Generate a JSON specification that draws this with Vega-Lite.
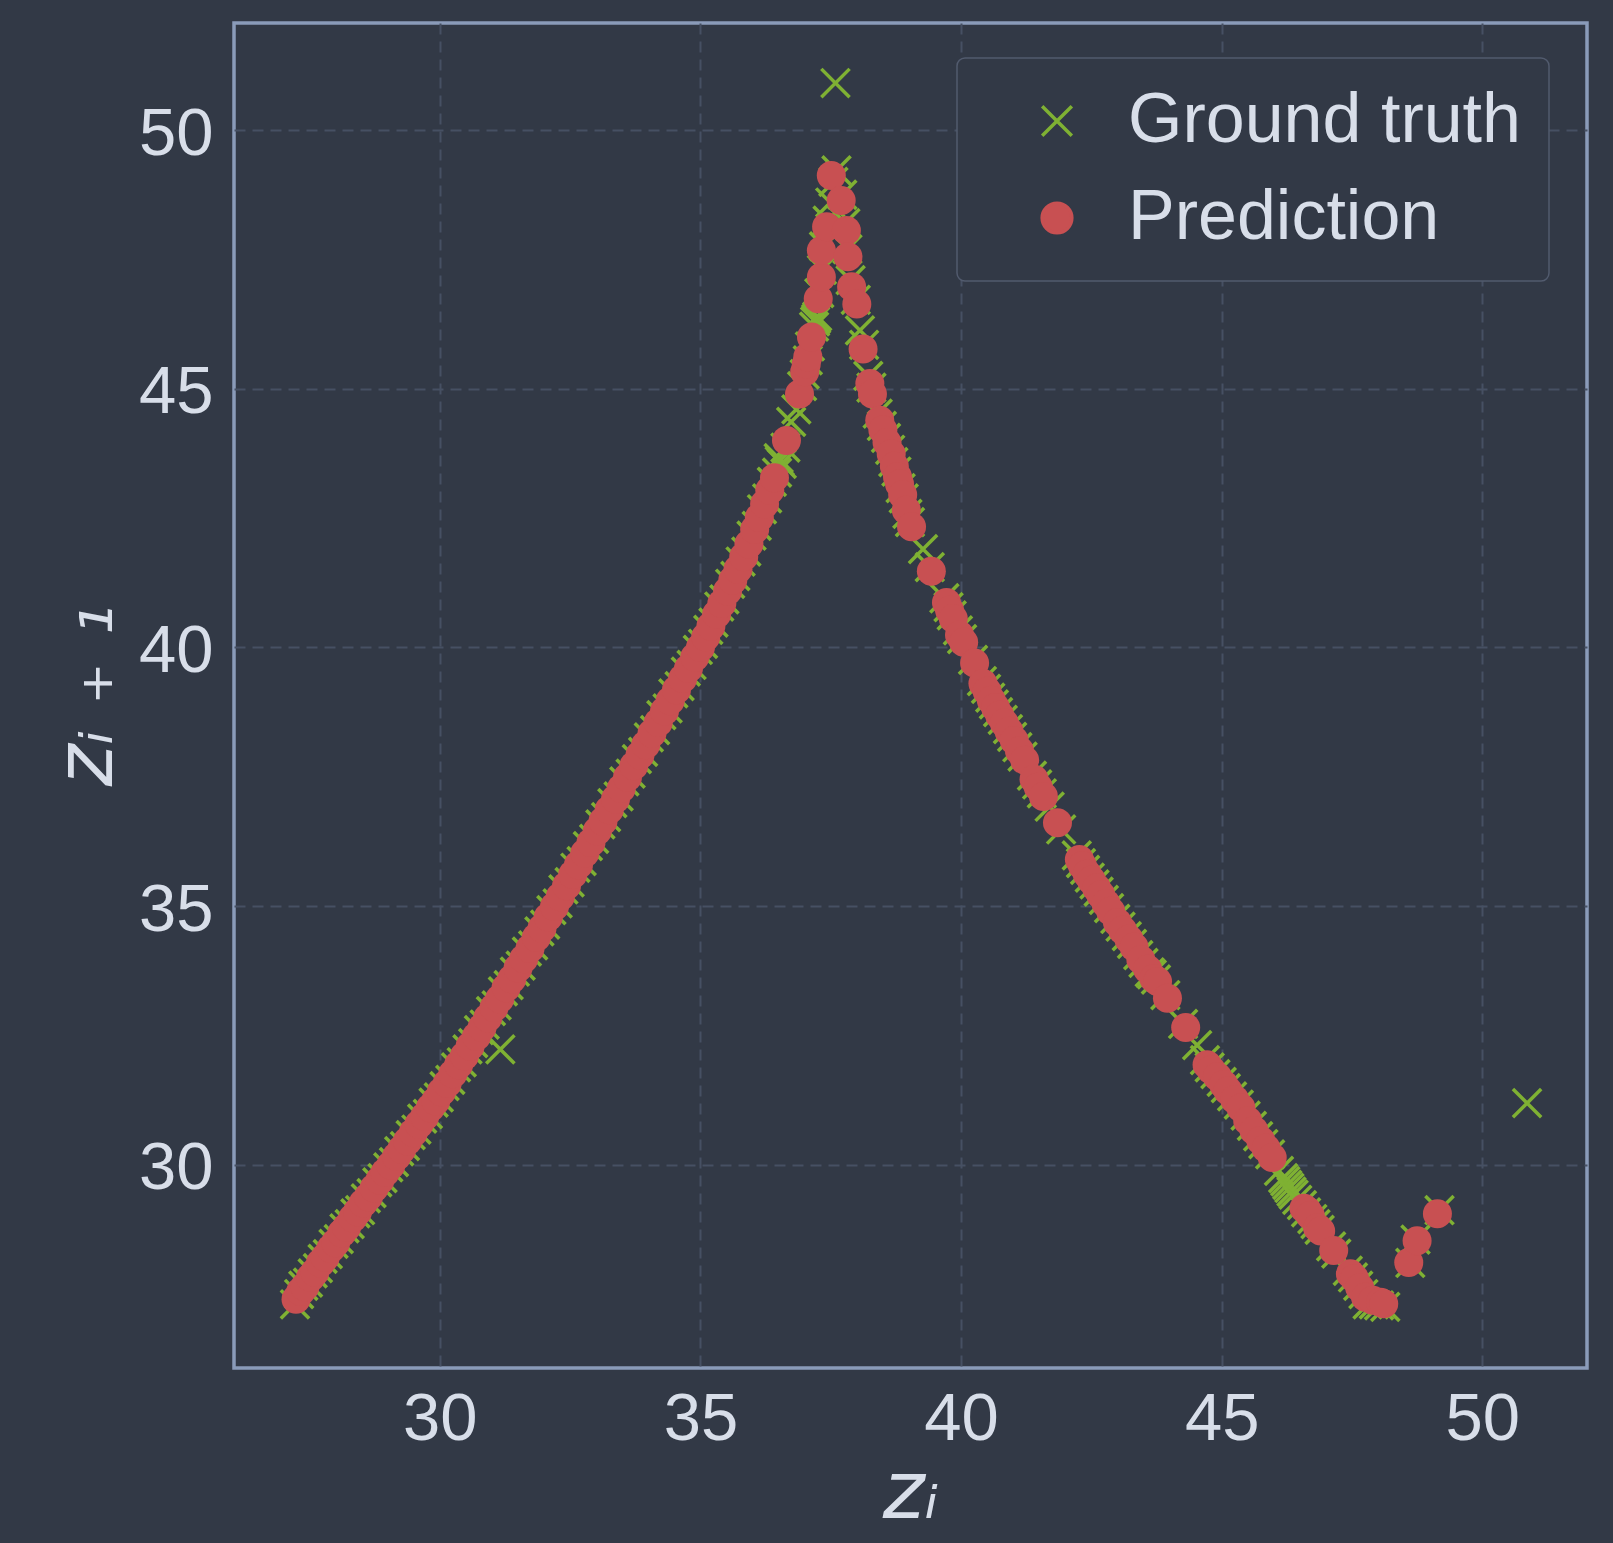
{
  "$schema": "https://vega.github.io/schema/vega-lite/v6.json",
  "autosize": {"type": "none"},
  "width": 1353,
  "height": 1345,
  "padding": {"left": 234, "top": 23, "right": 26, "bottom": 175},
  "background": "#323946",
  "config": {
    "view": {"stroke": "#8a9bb9", "strokeWidth": 3.5, "fill": "#323946"},
    "axis": {
      "domain": false,
      "ticks": false,
      "tickSize": 0,
      "grid": true,
      "gridColor": "#465063",
      "gridDash": [11, 7],
      "gridWidth": 2,
      "zindex": 1,
      "labelFont": "Liberation Sans",
      "labelFontSize": 67,
      "labelColor": "#d8dee9",
      "titleFont": "DejaVu Sans",
      "titleFontSize": 80,
      "titleFontStyle": "italic",
      "titleFontWeight": "normal",
      "titleColor": "#d8dee9"
    }
  },
  "data": {
    "values": [
      {"series": "Ground truth", "zi": 27.22, "zi1": 27.30},
      {"series": "Ground truth", "zi": 27.30, "zi1": 27.50},
      {"series": "Ground truth", "zi": 27.38, "zi1": 27.66},
      {"series": "Ground truth", "zi": 27.47, "zi1": 27.72},
      {"series": "Ground truth", "zi": 27.56, "zi1": 27.90},
      {"series": "Ground truth", "zi": 27.66, "zi1": 28.00},
      {"series": "Ground truth", "zi": 27.75, "zi1": 28.18},
      {"series": "Ground truth", "zi": 27.85, "zi1": 28.27},
      {"series": "Ground truth", "zi": 27.96, "zi1": 28.47},
      {"series": "Ground truth", "zi": 28.06, "zi1": 28.56},
      {"series": "Ground truth", "zi": 28.17, "zi1": 28.77},
      {"series": "Ground truth", "zi": 28.27, "zi1": 28.85},
      {"series": "Ground truth", "zi": 28.38, "zi1": 29.06},
      {"series": "Ground truth", "zi": 28.47, "zi1": 29.12},
      {"series": "Ground truth", "zi": 28.58, "zi1": 29.35},
      {"series": "Ground truth", "zi": 28.69, "zi1": 29.45},
      {"series": "Ground truth", "zi": 28.80, "zi1": 29.66},
      {"series": "Ground truth", "zi": 28.90, "zi1": 29.74},
      {"series": "Ground truth", "zi": 29.01, "zi1": 29.95},
      {"series": "Ground truth", "zi": 29.12, "zi1": 30.05},
      {"series": "Ground truth", "zi": 29.22, "zi1": 30.26},
      {"series": "Ground truth", "zi": 29.33, "zi1": 30.36},
      {"series": "Ground truth", "zi": 29.44, "zi1": 30.57},
      {"series": "Ground truth", "zi": 29.55, "zi1": 30.68},
      {"series": "Ground truth", "zi": 29.66, "zi1": 30.89},
      {"series": "Ground truth", "zi": 29.77, "zi1": 30.98},
      {"series": "Ground truth", "zi": 29.88, "zi1": 31.20},
      {"series": "Ground truth", "zi": 29.98, "zi1": 31.30},
      {"series": "Ground truth", "zi": 30.09, "zi1": 31.52},
      {"series": "Ground truth", "zi": 30.20, "zi1": 31.64},
      {"series": "Ground truth", "zi": 30.31, "zi1": 31.88},
      {"series": "Ground truth", "zi": 30.42, "zi1": 31.98},
      {"series": "Ground truth", "zi": 30.53, "zi1": 32.23},
      {"series": "Ground truth", "zi": 30.64, "zi1": 32.35},
      {"series": "Ground truth", "zi": 30.75, "zi1": 32.60},
      {"series": "Ground truth", "zi": 30.86, "zi1": 32.71},
      {"series": "Ground truth", "zi": 30.98, "zi1": 32.97},
      {"series": "Ground truth", "zi": 31.09, "zi1": 33.08},
      {"series": "Ground truth", "zi": 31.16, "zi1": 32.23},
      {"series": "Ground truth", "zi": 31.21, "zi1": 33.35},
      {"series": "Ground truth", "zi": 31.32, "zi1": 33.47},
      {"series": "Ground truth", "zi": 31.44, "zi1": 33.73},
      {"series": "Ground truth", "zi": 31.55, "zi1": 33.85},
      {"series": "Ground truth", "zi": 31.67, "zi1": 34.12},
      {"series": "Ground truth", "zi": 31.79, "zi1": 34.24},
      {"series": "Ground truth", "zi": 31.91, "zi1": 34.51},
      {"series": "Ground truth", "zi": 32.02, "zi1": 34.64},
      {"series": "Ground truth", "zi": 32.14, "zi1": 34.92},
      {"series": "Ground truth", "zi": 32.26, "zi1": 35.05},
      {"series": "Ground truth", "zi": 32.37, "zi1": 35.32},
      {"series": "Ground truth", "zi": 32.49, "zi1": 35.46},
      {"series": "Ground truth", "zi": 32.60, "zi1": 35.74},
      {"series": "Ground truth", "zi": 32.72, "zi1": 35.87},
      {"series": "Ground truth", "zi": 32.84, "zi1": 36.16},
      {"series": "Ground truth", "zi": 32.96, "zi1": 36.30},
      {"series": "Ground truth", "zi": 33.08, "zi1": 36.58},
      {"series": "Ground truth", "zi": 33.19, "zi1": 36.72},
      {"series": "Ground truth", "zi": 33.31, "zi1": 36.99},
      {"series": "Ground truth", "zi": 33.43, "zi1": 37.12},
      {"series": "Ground truth", "zi": 33.54, "zi1": 37.41},
      {"series": "Ground truth", "zi": 33.66, "zi1": 37.56},
      {"series": "Ground truth", "zi": 33.78, "zi1": 37.84},
      {"series": "Ground truth", "zi": 33.90, "zi1": 37.98},
      {"series": "Ground truth", "zi": 34.01, "zi1": 38.26},
      {"series": "Ground truth", "zi": 34.13, "zi1": 38.40},
      {"series": "Ground truth", "zi": 34.25, "zi1": 38.69},
      {"series": "Ground truth", "zi": 34.37, "zi1": 38.82},
      {"series": "Ground truth", "zi": 34.48, "zi1": 39.11},
      {"series": "Ground truth", "zi": 34.60, "zi1": 39.25},
      {"series": "Ground truth", "zi": 34.72, "zi1": 39.53},
      {"series": "Ground truth", "zi": 34.83, "zi1": 39.66},
      {"series": "Ground truth", "zi": 34.95, "zi1": 39.95},
      {"series": "Ground truth", "zi": 35.05, "zi1": 40.07},
      {"series": "Ground truth", "zi": 35.15, "zi1": 40.34},
      {"series": "Ground truth", "zi": 35.25, "zi1": 40.48},
      {"series": "Ground truth", "zi": 35.36, "zi1": 40.79},
      {"series": "Ground truth", "zi": 35.46, "zi1": 40.93},
      {"series": "Ground truth", "zi": 35.57, "zi1": 41.23},
      {"series": "Ground truth", "zi": 35.67, "zi1": 41.38},
      {"series": "Ground truth", "zi": 35.77, "zi1": 41.66},
      {"series": "Ground truth", "zi": 35.88, "zi1": 41.85},
      {"series": "Ground truth", "zi": 35.98, "zi1": 42.16},
      {"series": "Ground truth", "zi": 36.08, "zi1": 42.35},
      {"series": "Ground truth", "zi": 36.18, "zi1": 42.67},
      {"series": "Ground truth", "zi": 36.28, "zi1": 42.88},
      {"series": "Ground truth", "zi": 36.37, "zi1": 43.20},
      {"series": "Ground truth", "zi": 36.47, "zi1": 43.38},
      {"series": "Ground truth", "zi": 36.52, "zi1": 43.60},
      {"series": "Ground truth", "zi": 36.56, "zi1": 43.55},
      {"series": "Ground truth", "zi": 36.50, "zi1": 43.66},
      {"series": "Ground truth", "zi": 36.63, "zi1": 43.86},
      {"series": "Ground truth", "zi": 36.74, "zi1": 44.36},
      {"series": "Ground truth", "zi": 36.84, "zi1": 44.60},
      {"series": "Ground truth", "zi": 36.95, "zi1": 45.05},
      {"series": "Ground truth", "zi": 37.00, "zi1": 45.28},
      {"series": "Ground truth", "zi": 37.06, "zi1": 45.55},
      {"series": "Ground truth", "zi": 37.10, "zi1": 45.82},
      {"series": "Ground truth", "zi": 37.18, "zi1": 46.20},
      {"series": "Ground truth", "zi": 37.22, "zi1": 46.35},
      {"series": "Ground truth", "zi": 37.24, "zi1": 46.40},
      {"series": "Ground truth", "zi": 37.20, "zi1": 46.30},
      {"series": "Ground truth", "zi": 37.28, "zi1": 46.85},
      {"series": "Ground truth", "zi": 37.33, "zi1": 47.30},
      {"series": "Ground truth", "zi": 37.37, "zi1": 47.75},
      {"series": "Ground truth", "zi": 37.44, "zi1": 48.25},
      {"series": "Ground truth", "zi": 37.49, "zi1": 48.60},
      {"series": "Ground truth", "zi": 37.55, "zi1": 49.00},
      {"series": "Ground truth", "zi": 37.61, "zi1": 49.22},
      {"series": "Ground truth", "zi": 37.59, "zi1": 50.91},
      {"series": "Ground truth", "zi": 37.72, "zi1": 48.75},
      {"series": "Ground truth", "zi": 37.78, "zi1": 48.20},
      {"series": "Ground truth", "zi": 37.82, "zi1": 47.70},
      {"series": "Ground truth", "zi": 37.88, "zi1": 47.10},
      {"series": "Ground truth", "zi": 37.98, "zi1": 46.72},
      {"series": "Ground truth", "zi": 38.06, "zi1": 46.13},
      {"series": "Ground truth", "zi": 38.14, "zi1": 45.85},
      {"series": "Ground truth", "zi": 38.22, "zi1": 45.25},
      {"series": "Ground truth", "zi": 38.28, "zi1": 45.02},
      {"series": "Ground truth", "zi": 38.40, "zi1": 44.52},
      {"series": "Ground truth", "zi": 38.48, "zi1": 44.28},
      {"series": "Ground truth", "zi": 38.56, "zi1": 44.05},
      {"series": "Ground truth", "zi": 38.64, "zi1": 43.82},
      {"series": "Ground truth", "zi": 38.70, "zi1": 43.58},
      {"series": "Ground truth", "zi": 38.76, "zi1": 43.40},
      {"series": "Ground truth", "zi": 38.84, "zi1": 43.08},
      {"series": "Ground truth", "zi": 38.90, "zi1": 42.88},
      {"series": "Ground truth", "zi": 38.97, "zi1": 42.58},
      {"series": "Ground truth", "zi": 39.02, "zi1": 42.42},
      {"series": "Ground truth", "zi": 39.27, "zi1": 41.90},
      {"series": "Ground truth", "zi": 39.40, "zi1": 41.55},
      {"series": "Ground truth", "zi": 39.68, "zi1": 40.95},
      {"series": "Ground truth", "zi": 39.76, "zi1": 40.78},
      {"series": "Ground truth", "zi": 39.82, "zi1": 40.62},
      {"series": "Ground truth", "zi": 39.94, "zi1": 40.33},
      {"series": "Ground truth", "zi": 40.02, "zi1": 40.16},
      {"series": "Ground truth", "zi": 40.23, "zi1": 39.76},
      {"series": "Ground truth", "zi": 40.40, "zi1": 39.35},
      {"series": "Ground truth", "zi": 40.48, "zi1": 39.20},
      {"series": "Ground truth", "zi": 40.56, "zi1": 39.03},
      {"series": "Ground truth", "zi": 40.63, "zi1": 38.90},
      {"series": "Ground truth", "zi": 40.71, "zi1": 38.75},
      {"series": "Ground truth", "zi": 40.80, "zi1": 38.60},
      {"series": "Ground truth", "zi": 40.90, "zi1": 38.42},
      {"series": "Ground truth", "zi": 40.98, "zi1": 38.27},
      {"series": "Ground truth", "zi": 41.08, "zi1": 38.07},
      {"series": "Ground truth", "zi": 41.18, "zi1": 37.89},
      {"series": "Ground truth", "zi": 41.36, "zi1": 37.52},
      {"series": "Ground truth", "zi": 41.46, "zi1": 37.35},
      {"series": "Ground truth", "zi": 41.55, "zi1": 37.18},
      {"series": "Ground truth", "zi": 41.70, "zi1": 36.92},
      {"series": "Ground truth", "zi": 41.92, "zi1": 36.48},
      {"series": "Ground truth", "zi": 42.22, "zi1": 35.98},
      {"series": "Ground truth", "zi": 42.30, "zi1": 35.83},
      {"series": "Ground truth", "zi": 42.38, "zi1": 35.70},
      {"series": "Ground truth", "zi": 42.47, "zi1": 35.55},
      {"series": "Ground truth", "zi": 42.56, "zi1": 35.42},
      {"series": "Ground truth", "zi": 42.64, "zi1": 35.28},
      {"series": "Ground truth", "zi": 42.74, "zi1": 35.12},
      {"series": "Ground truth", "zi": 42.84, "zi1": 34.96},
      {"series": "Ground truth", "zi": 42.96, "zi1": 34.75},
      {"series": "Ground truth", "zi": 43.06, "zi1": 34.60},
      {"series": "Ground truth", "zi": 43.18, "zi1": 34.42},
      {"series": "Ground truth", "zi": 43.28, "zi1": 34.27},
      {"series": "Ground truth", "zi": 43.40, "zi1": 34.05},
      {"series": "Ground truth", "zi": 43.50, "zi1": 33.90},
      {"series": "Ground truth", "zi": 43.62, "zi1": 33.72},
      {"series": "Ground truth", "zi": 43.66, "zi1": 33.68},
      {"series": "Ground truth", "zi": 43.74, "zi1": 33.58},
      {"series": "Ground truth", "zi": 43.92, "zi1": 33.28},
      {"series": "Ground truth", "zi": 44.26, "zi1": 32.72},
      {"series": "Ground truth", "zi": 44.53, "zi1": 32.31},
      {"series": "Ground truth", "zi": 44.68, "zi1": 32.02},
      {"series": "Ground truth", "zi": 44.77, "zi1": 31.88},
      {"series": "Ground truth", "zi": 44.88, "zi1": 31.75},
      {"series": "Ground truth", "zi": 45.00, "zi1": 31.60},
      {"series": "Ground truth", "zi": 45.08, "zi1": 31.48},
      {"series": "Ground truth", "zi": 45.20, "zi1": 31.32},
      {"series": "Ground truth", "zi": 45.33, "zi1": 31.16},
      {"series": "Ground truth", "zi": 45.46, "zi1": 30.95},
      {"series": "Ground truth", "zi": 45.58, "zi1": 30.75},
      {"series": "Ground truth", "zi": 45.70, "zi1": 30.55},
      {"series": "Ground truth", "zi": 45.80, "zi1": 30.40},
      {"series": "Ground truth", "zi": 45.93, "zi1": 30.20},
      {"series": "Ground truth", "zi": 46.10, "zi1": 29.88},
      {"series": "Ground truth", "zi": 46.18, "zi1": 29.74},
      {"series": "Ground truth", "zi": 46.22, "zi1": 29.68},
      {"series": "Ground truth", "zi": 46.26, "zi1": 29.61},
      {"series": "Ground truth", "zi": 46.30, "zi1": 29.55},
      {"series": "Ground truth", "zi": 46.34, "zi1": 29.48},
      {"series": "Ground truth", "zi": 46.38, "zi1": 29.42},
      {"series": "Ground truth", "zi": 46.45, "zi1": 29.32},
      {"series": "Ground truth", "zi": 46.54, "zi1": 29.22},
      {"series": "Ground truth", "zi": 46.62, "zi1": 29.08},
      {"series": "Ground truth", "zi": 46.74, "zi1": 28.95},
      {"series": "Ground truth", "zi": 46.80, "zi1": 28.85},
      {"series": "Ground truth", "zi": 46.88, "zi1": 28.74},
      {"series": "Ground truth", "zi": 47.10, "zi1": 28.42},
      {"series": "Ground truth", "zi": 47.20, "zi1": 28.28},
      {"series": "Ground truth", "zi": 47.42, "zi1": 27.95},
      {"series": "Ground truth", "zi": 47.52, "zi1": 27.82},
      {"series": "Ground truth", "zi": 47.62, "zi1": 27.66},
      {"series": "Ground truth", "zi": 47.72, "zi1": 27.50},
      {"series": "Ground truth", "zi": 47.80, "zi1": 27.30},
      {"series": "Ground truth", "zi": 47.92, "zi1": 27.30},
      {"series": "Ground truth", "zi": 48.02, "zi1": 27.28},
      {"series": "Ground truth", "zi": 48.14, "zi1": 27.25},
      {"series": "Ground truth", "zi": 48.62, "zi1": 28.10},
      {"series": "Ground truth", "zi": 48.72, "zi1": 28.55},
      {"series": "Ground truth", "zi": 49.18, "zi1": 29.12},
      {"series": "Ground truth", "zi": 50.86, "zi1": 31.19},

      {"series": "Prediction", "zi": 27.24, "zi1": 27.40},
      {"series": "Prediction", "zi": 27.33, "zi1": 27.55},
      {"series": "Prediction", "zi": 27.41, "zi1": 27.64},
      {"series": "Prediction", "zi": 27.52, "zi1": 27.82},
      {"series": "Prediction", "zi": 27.60, "zi1": 27.92},
      {"series": "Prediction", "zi": 27.71, "zi1": 28.10},
      {"series": "Prediction", "zi": 27.80, "zi1": 28.21},
      {"series": "Prediction", "zi": 27.91, "zi1": 28.38},
      {"series": "Prediction", "zi": 28.00, "zi1": 28.49},
      {"series": "Prediction", "zi": 28.12, "zi1": 28.68},
      {"series": "Prediction", "zi": 28.21, "zi1": 28.79},
      {"series": "Prediction", "zi": 28.33, "zi1": 28.97},
      {"series": "Prediction", "zi": 28.42, "zi1": 29.09},
      {"series": "Prediction", "zi": 28.53, "zi1": 29.26},
      {"series": "Prediction", "zi": 28.63, "zi1": 29.38},
      {"series": "Prediction", "zi": 28.74, "zi1": 29.55},
      {"series": "Prediction", "zi": 28.85, "zi1": 29.70},
      {"series": "Prediction", "zi": 28.95, "zi1": 29.85},
      {"series": "Prediction", "zi": 29.06, "zi1": 29.99},
      {"series": "Prediction", "zi": 29.17, "zi1": 30.16},
      {"series": "Prediction", "zi": 29.27, "zi1": 30.30},
      {"series": "Prediction", "zi": 29.38, "zi1": 30.46},
      {"series": "Prediction", "zi": 29.49, "zi1": 30.62},
      {"series": "Prediction", "zi": 29.60, "zi1": 30.78},
      {"series": "Prediction", "zi": 29.71, "zi1": 30.93},
      {"series": "Prediction", "zi": 29.82, "zi1": 31.10},
      {"series": "Prediction", "zi": 29.92, "zi1": 31.23},
      {"series": "Prediction", "zi": 30.03, "zi1": 31.41},
      {"series": "Prediction", "zi": 30.14, "zi1": 31.57},
      {"series": "Prediction", "zi": 30.25, "zi1": 31.76},
      {"series": "Prediction", "zi": 30.36, "zi1": 31.93},
      {"series": "Prediction", "zi": 30.47, "zi1": 32.10},
      {"series": "Prediction", "zi": 30.58, "zi1": 32.29},
      {"series": "Prediction", "zi": 30.70, "zi1": 32.48},
      {"series": "Prediction", "zi": 30.81, "zi1": 32.65},
      {"series": "Prediction", "zi": 30.92, "zi1": 32.84},
      {"series": "Prediction", "zi": 31.04, "zi1": 33.04},
      {"series": "Prediction", "zi": 31.15, "zi1": 33.21},
      {"series": "Prediction", "zi": 31.27, "zi1": 33.42},
      {"series": "Prediction", "zi": 31.38, "zi1": 33.59},
      {"series": "Prediction", "zi": 31.50, "zi1": 33.80},
      {"series": "Prediction", "zi": 31.61, "zi1": 33.98},
      {"series": "Prediction", "zi": 31.73, "zi1": 34.18},
      {"series": "Prediction", "zi": 31.85, "zi1": 34.39},
      {"series": "Prediction", "zi": 31.96, "zi1": 34.57},
      {"series": "Prediction", "zi": 32.08, "zi1": 34.79},
      {"series": "Prediction", "zi": 32.20, "zi1": 34.99},
      {"series": "Prediction", "zi": 32.31, "zi1": 35.18},
      {"series": "Prediction", "zi": 32.43, "zi1": 35.39},
      {"series": "Prediction", "zi": 32.55, "zi1": 35.61},
      {"series": "Prediction", "zi": 32.66, "zi1": 35.80},
      {"series": "Prediction", "zi": 32.78, "zi1": 36.02},
      {"series": "Prediction", "zi": 32.90, "zi1": 36.23},
      {"series": "Prediction", "zi": 33.02, "zi1": 36.45},
      {"series": "Prediction", "zi": 33.13, "zi1": 36.64},
      {"series": "Prediction", "zi": 33.25, "zi1": 36.86},
      {"series": "Prediction", "zi": 33.37, "zi1": 37.07},
      {"series": "Prediction", "zi": 33.48, "zi1": 37.27},
      {"series": "Prediction", "zi": 33.60, "zi1": 37.49},
      {"series": "Prediction", "zi": 33.72, "zi1": 37.71},
      {"series": "Prediction", "zi": 33.84, "zi1": 37.92},
      {"series": "Prediction", "zi": 33.95, "zi1": 38.12},
      {"series": "Prediction", "zi": 34.07, "zi1": 38.34},
      {"series": "Prediction", "zi": 34.19, "zi1": 38.55},
      {"series": "Prediction", "zi": 34.31, "zi1": 38.77},
      {"series": "Prediction", "zi": 34.42, "zi1": 38.97},
      {"series": "Prediction", "zi": 34.54, "zi1": 39.18},
      {"series": "Prediction", "zi": 34.66, "zi1": 39.40},
      {"series": "Prediction", "zi": 34.77, "zi1": 39.59},
      {"series": "Prediction", "zi": 34.89, "zi1": 39.81},
      {"series": "Prediction", "zi": 35.00, "zi1": 40.00},
      {"series": "Prediction", "zi": 35.10, "zi1": 40.20},
      {"series": "Prediction", "zi": 35.20, "zi1": 40.41},
      {"series": "Prediction", "zi": 35.31, "zi1": 40.64},
      {"series": "Prediction", "zi": 35.41, "zi1": 40.85},
      {"series": "Prediction", "zi": 35.52, "zi1": 41.09},
      {"series": "Prediction", "zi": 35.62, "zi1": 41.30},
      {"series": "Prediction", "zi": 35.72, "zi1": 41.51},
      {"series": "Prediction", "zi": 35.83, "zi1": 41.75},
      {"series": "Prediction", "zi": 35.93, "zi1": 42.00},
      {"series": "Prediction", "zi": 36.04, "zi1": 42.28},
      {"series": "Prediction", "zi": 36.13, "zi1": 42.51},
      {"series": "Prediction", "zi": 36.23, "zi1": 42.77},
      {"series": "Prediction", "zi": 36.33, "zi1": 43.04},
      {"series": "Prediction", "zi": 36.42, "zi1": 43.28},
      {"series": "Prediction", "zi": 36.65, "zi1": 44.00},
      {"series": "Prediction", "zi": 36.90, "zi1": 44.90},
      {"series": "Prediction", "zi": 37.00, "zi1": 45.33},
      {"series": "Prediction", "zi": 37.03, "zi1": 45.48},
      {"series": "Prediction", "zi": 37.06, "zi1": 45.62},
      {"series": "Prediction", "zi": 37.13, "zi1": 46.00},
      {"series": "Prediction", "zi": 37.26, "zi1": 46.74},
      {"series": "Prediction", "zi": 37.32, "zi1": 47.16},
      {"series": "Prediction", "zi": 37.32, "zi1": 47.67},
      {"series": "Prediction", "zi": 37.42, "zi1": 48.13},
      {"series": "Prediction", "zi": 37.51, "zi1": 49.12},
      {"series": "Prediction", "zi": 37.70, "zi1": 48.64},
      {"series": "Prediction", "zi": 37.80, "zi1": 48.06},
      {"series": "Prediction", "zi": 37.83, "zi1": 47.55},
      {"series": "Prediction", "zi": 37.90, "zi1": 46.97},
      {"series": "Prediction", "zi": 38.00, "zi1": 46.64},
      {"series": "Prediction", "zi": 38.12, "zi1": 45.77},
      {"series": "Prediction", "zi": 38.25, "zi1": 45.10},
      {"series": "Prediction", "zi": 38.30, "zi1": 44.90},
      {"series": "Prediction", "zi": 38.44, "zi1": 44.39},
      {"series": "Prediction", "zi": 38.50, "zi1": 44.20},
      {"series": "Prediction", "zi": 38.58, "zi1": 43.96},
      {"series": "Prediction", "zi": 38.66, "zi1": 43.74},
      {"series": "Prediction", "zi": 38.72, "zi1": 43.50},
      {"series": "Prediction", "zi": 38.78, "zi1": 43.30},
      {"series": "Prediction", "zi": 38.82, "zi1": 43.16},
      {"series": "Prediction", "zi": 38.88, "zi1": 42.95},
      {"series": "Prediction", "zi": 38.95, "zi1": 42.65},
      {"series": "Prediction", "zi": 39.05, "zi1": 42.33},
      {"series": "Prediction", "zi": 39.43, "zi1": 41.47},
      {"series": "Prediction", "zi": 39.72, "zi1": 40.87},
      {"series": "Prediction", "zi": 39.78, "zi1": 40.72},
      {"series": "Prediction", "zi": 39.85, "zi1": 40.56},
      {"series": "Prediction", "zi": 39.97, "zi1": 40.24},
      {"series": "Prediction", "zi": 40.05, "zi1": 40.10},
      {"series": "Prediction", "zi": 40.26, "zi1": 39.70},
      {"series": "Prediction", "zi": 40.42, "zi1": 39.30},
      {"series": "Prediction", "zi": 40.50, "zi1": 39.15},
      {"series": "Prediction", "zi": 40.58, "zi1": 38.98},
      {"series": "Prediction", "zi": 40.66, "zi1": 38.84},
      {"series": "Prediction", "zi": 40.74, "zi1": 38.69},
      {"series": "Prediction", "zi": 40.83, "zi1": 38.54},
      {"series": "Prediction", "zi": 40.92, "zi1": 38.38},
      {"series": "Prediction", "zi": 41.02, "zi1": 38.20},
      {"series": "Prediction", "zi": 41.12, "zi1": 38.00},
      {"series": "Prediction", "zi": 41.22, "zi1": 37.82},
      {"series": "Prediction", "zi": 41.40, "zi1": 37.45},
      {"series": "Prediction", "zi": 41.48, "zi1": 37.30},
      {"series": "Prediction", "zi": 41.58, "zi1": 37.12},
      {"series": "Prediction", "zi": 41.85, "zi1": 36.61},
      {"series": "Prediction", "zi": 42.27, "zi1": 35.90},
      {"series": "Prediction", "zi": 42.33, "zi1": 35.78},
      {"series": "Prediction", "zi": 42.42, "zi1": 35.62},
      {"series": "Prediction", "zi": 42.50, "zi1": 35.50},
      {"series": "Prediction", "zi": 42.60, "zi1": 35.35},
      {"series": "Prediction", "zi": 42.68, "zi1": 35.22},
      {"series": "Prediction", "zi": 42.78, "zi1": 35.05},
      {"series": "Prediction", "zi": 42.87, "zi1": 34.90},
      {"series": "Prediction", "zi": 43.00, "zi1": 34.68},
      {"series": "Prediction", "zi": 43.10, "zi1": 34.53},
      {"series": "Prediction", "zi": 43.22, "zi1": 34.36},
      {"series": "Prediction", "zi": 43.32, "zi1": 34.21},
      {"series": "Prediction", "zi": 43.45, "zi1": 33.96},
      {"series": "Prediction", "zi": 43.58, "zi1": 33.78},
      {"series": "Prediction", "zi": 43.70, "zi1": 33.60},
      {"series": "Prediction", "zi": 43.77, "zi1": 33.54},
      {"series": "Prediction", "zi": 43.96, "zi1": 33.22},
      {"series": "Prediction", "zi": 44.31, "zi1": 32.65},
      {"series": "Prediction", "zi": 44.72, "zi1": 31.93},
      {"series": "Prediction", "zi": 44.80, "zi1": 31.83},
      {"series": "Prediction", "zi": 44.92, "zi1": 31.70},
      {"series": "Prediction", "zi": 45.04, "zi1": 31.55},
      {"series": "Prediction", "zi": 45.12, "zi1": 31.43},
      {"series": "Prediction", "zi": 45.25, "zi1": 31.26},
      {"series": "Prediction", "zi": 45.37, "zi1": 31.10},
      {"series": "Prediction", "zi": 45.50, "zi1": 30.85},
      {"series": "Prediction", "zi": 45.62, "zi1": 30.66},
      {"series": "Prediction", "zi": 45.75, "zi1": 30.47},
      {"series": "Prediction", "zi": 45.85, "zi1": 30.32},
      {"series": "Prediction", "zi": 45.97, "zi1": 30.14},
      {"series": "Prediction", "zi": 46.58, "zi1": 29.16},
      {"series": "Prediction", "zi": 46.64, "zi1": 29.11},
      {"series": "Prediction", "zi": 46.70, "zi1": 29.02},
      {"series": "Prediction", "zi": 46.84, "zi1": 28.78},
      {"series": "Prediction", "zi": 46.90, "zi1": 28.72},
      {"series": "Prediction", "zi": 47.15, "zi1": 28.34},
      {"series": "Prediction", "zi": 47.47, "zi1": 27.89},
      {"series": "Prediction", "zi": 47.55, "zi1": 27.80},
      {"series": "Prediction", "zi": 47.65, "zi1": 27.62},
      {"series": "Prediction", "zi": 47.76, "zi1": 27.44},
      {"series": "Prediction", "zi": 47.90, "zi1": 27.38},
      {"series": "Prediction", "zi": 48.05, "zi1": 27.34},
      {"series": "Prediction", "zi": 48.11, "zi1": 27.31},
      {"series": "Prediction", "zi": 48.59, "zi1": 28.11},
      {"series": "Prediction", "zi": 48.75, "zi1": 28.53},
      {"series": "Prediction", "zi": 49.14, "zi1": 29.05}
    ]
  },
  "encoding": {
    "x": {
      "field": "zi",
      "type": "quantitative",
      "scale": {"domain": [26.05, 52.01], "nice": false, "zero": false},
      "axis": {
        "values": [30, 35, 40, 45, 50],
        "format": "d",
        "labelPadding": 18,
        "title": "zᵢ",
        "titleBaseline": "alphabetic",
        "titleY": 149
      }
    },
    "y": {
      "field": "zi1",
      "type": "quantitative",
      "scale": {"domain": [26.07, 52.07], "nice": false, "zero": false},
      "axis": {
        "values": [30, 35, 40, 45, 50],
        "format": "d",
        "labelPadding": 21,
        "labelOffset": 4,
        "title": "zᵢ ₊ ₁",
        "titleAngle": 270,
        "titleAlign": "center",
        "titleBaseline": "alphabetic",
        "titleX": -123,
        "titleY": 672
      }
    },
    "color": {
      "field": "series",
      "type": "nominal",
      "scale": {"domain": ["Ground truth", "Prediction"], "range": ["#7fb133", "#c85052"]},
      "legend": {
        "orient": "none",
        "legendX": 723,
        "legendY": 35,
        "title": null,
        "padding": 28,
        "symbolOffset": 37,
        "labelOffset": 36,
        "rowPadding": 27,
        "fillColor": "#323946",
        "strokeColor": "#525b6e",
        "cornerRadius": 8,
        "labelFont": "Liberation Sans",
        "labelFontSize": 70,
        "labelColor": "#d8dee9",
        "labelLimit": 0,
        "symbolSize": 880,
        "symbolStrokeWidth": 3.5,
        "symbolOpacity": 1,
        "encode": {
          "symbols": {
            "update": {
              "fill": {"signal": "datum.value === 'Prediction' ? '#c85052' : 'transparent'"},
              "stroke": {"signal": "datum.value === 'Prediction' ? 'transparent' : '#7fb133'"}
            }
          },
          "legend": {"update": {"strokeWidth": {"value": 1.5}}}
        }
      }
    },
    "shape": {
      "field": "series",
      "type": "nominal",
      "scale": {"domain": ["Ground truth", "Prediction"], "range": ["M-1,-1L1,1M-1,1L1,-1", "circle"]}
    }
  },
  "layer": [
    {
      "transform": [{"filter": "datum.series === 'Ground truth'"}],
      "mark": {"type": "point", "filled": false, "strokeWidth": 3.5, "size": 800, "opacity": 1}
    },
    {
      "transform": [{"filter": "datum.series === 'Prediction'"}],
      "mark": {"type": "point", "filled": true, "size": 841, "opacity": 1, "strokeWidth": 0}
    }
  ]
}
